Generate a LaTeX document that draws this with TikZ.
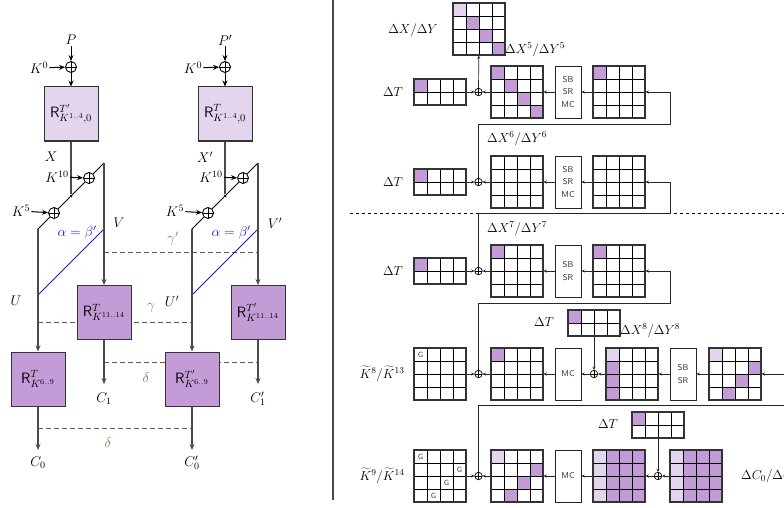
\RequirePackage{fix-cm}
\documentclass[tikz,border=0pt]{standalone}
\usepackage{fontspec}
\usetikzlibrary{arrows.meta}
\definecolor{pm}{RGB}{195,155,215}
\definecolor{pl}{RGB}{227,213,238}
\definecolor{brn}{RGB}{115,85,55}
\definecolor{lbrn}{RGB}{140,110,80}
\definecolor{dk}{RGB}{75,75,75}
\definecolor{bl}{RGB}{20,20,235}
\tikzset{
 lab/.style={font=\fontsize{14}{16}\selectfont, inner sep=1pt},
 rlab/.style={font=\fontsize{13}{15}\selectfont, inner sep=1pt},
 bigbox/.style={draw=black!80, line width=1pt, minimum width=54pt, minimum height=54pt, inner sep=0pt, font=\fontsize{15}{17}\selectfont},
 xorL/.style={circle, draw, line width=0.9pt, minimum size=11pt, inner sep=0pt,
   path picture={\draw[line width=0.9pt] (path picture bounding box.north) -- (path picture bounding box.south) (path picture bounding box.west) -- (path picture bounding box.east);}},
 xorR/.style={circle, draw, line width=0.7pt, minimum size=7.5pt, inner sep=0pt,
   path picture={\draw[line width=0.7pt] (path picture bounding box.north) -- (path picture bounding box.south) (path picture bounding box.west) -- (path picture bounding box.east);}},
 dotn/.style={circle, fill, inner sep=0pt, minimum size=3pt},
 kar/.style={-{Stealth[length=6pt,width=5pt]}, black, line width=1pt},
 larr/.style={-{Stealth[length=6pt,width=5pt]}, dk, line width=1.3pt},
 vl/.style={dk, line width=1.3pt},
 diag/.style={black, line width=0.9pt},
 bline/.style={bl, line width=1pt},
 bdash/.style={brn, line width=1pt, dash pattern=on 5pt off 3pt},
 rarr/.style={-{Stealth[length=3.2pt,width=3pt]}, black!85, line width=0.7pt},
 rline/.style={black!85, line width=0.8pt},
 gl/.style={black, line width=0.9pt},
 gb/.style={draw=black!80, line width=1.1pt, minimum width=52pt, inner sep=0pt},
 opbox/.style={draw=black!85, line width=0.9pt, minimum width=26pt, minimum height=52pt, inner sep=0pt, align=center, font=\fontsize{8.5}{12.5}\selectfont\sffamily, text=black!80},
 gtxt/.style={font=\fontsize{7.5}{8}\selectfont\sffamily, inner sep=0pt, text=black!80}
}
\newcommand\mygrid[5]{%
 \begin{scope}[shift={(#2,#3)}]
  \foreach \c/\r/\col in {#5} {\fill[\col] (13*\c,13*\r) rectangle ++(13,13);}
  \foreach \i in {1,2,3} {\draw[gl] (13*\i,0) -- (13*\i,13*#4);}
  \foreach \j in {1,2,3} {\ifnum\j<#4 \draw[gl] (0,13*\j) -- (52,13*\j);\fi}
  \node[gb, minimum height={13pt*#4}] (#1) at (26,6.5*#4) {};
 \end{scope}}
\begin{document}
\begin{tikzpicture}[x=1pt,y=-1pt]
\useasboundingbox (0,0) rectangle (784,508);
% ================= LEFT =================
\coordinate (g1s) at (104,252); \coordinate (g1e) at (258,252);
\coordinate (g2s) at (38,322);  \coordinate (g2e) at (192,322);
\coordinate (d1s) at (104,362); \coordinate (d1e) at (258,362);
\coordinate (d2s) at (38,428);  \coordinate (d2e) at (192,428);
\draw[bdash] (g1s) -- (g1e);
\draw[bdash] (g2s) -- (g2e);
\draw[bdash] (d1s) -- (d1e);
\draw[bdash] (d2s) -- (d2e);
\node[lab, text=lbrn] (lg1) at (173,239) {$\gamma'$};
\node[lab, text=lbrn] (lg2) at (151,308) {$\gamma$};
\node[lab, text=lbrn] (ld1) at (146,378) {$\delta$};
\node[lab, text=lbrn] (ld2) at (108,443) {$\delta$};
% ---- column A ----
\node[lab] (Pa) at (71,40) {$P$};
\node[xorL] (x0a) at (71,67) {};
\node[lab] (K0a) at (39,68) {$K^0$};
\node[bigbox, fill=pl] (Ra) at (71,114) {$\mathsf{R}^{T'}_{K^{1..4},0}$};
\draw[kar] (Pa) -- (x0a);
\draw[kar] (K0a) -- (x0a);
\draw[kar] (x0a) -- (Ra);
\node[lab] (Xa) at (51,157) {$X$};
\coordinate (ULa) at (38,229); \coordinate (VTa) at (104,163);
\node[xorL] (x5a) at (54,213) {};
\node[xorL] (x10a) at (89,178) {};
\node[dotn] (Da) at (71,196) {};
\draw[vl] (Ra) -- (Da);
\draw[diag] (ULa) -- (x5a) -- (Da) -- (x10a) -- (VTa);
\node[lab] (K10a) at (57,177) {$K^{10}$};
\node[lab] (K5a) at (21,211) {$K^5$};
\draw[kar] (K10a) -- (x10a);
\draw[kar] (K5a) -- (x5a);
\node[lab] (Va) at (119,223) {$V$};
\node[lab, text=bl] (ABa) at (77,233) {$\alpha=\beta'$};
\node[lab] (Ua) at (16,301) {$U$};
\coordinate (BTa) at (104,229); \coordinate (BBa) at (38,295);
\draw[bline] (BTa) -- (BBa);
\node[bigbox, fill=pm] (Sa) at (104,312.5) {$\mathsf{R}^{T}_{K^{11..14}}$};
\node[bigbox, fill=pm] (Qa) at (38,379) {$\mathsf{R}^{T}_{K^{6..9}}$};
\draw[larr] (VTa) -- (Sa);
\draw[larr] (ULa) -- (Qa);
\node[lab] (C1a) at (104,399) {$C_1$};
\node[lab] (C0a) at (38,463) {$C_0$};
\coordinate (E1a) at (104,384); \coordinate (E0a) at (38,450);
\draw[larr] (Sa) -- (E1a);
\draw[larr] (Qa) -- (E0a);
% ---- column B ----
\node[lab] (Pb) at (225,40) {$P'$};
\node[xorL] (x0b) at (225,67) {};
\node[lab] (K0b) at (193,68) {$K^0$};
\node[bigbox, fill=pl] (Rb) at (225,114) {$\mathsf{R}^{T}_{K^{1..4},0}$};
\draw[kar] (Pb) -- (x0b);
\draw[kar] (K0b) -- (x0b);
\draw[kar] (x0b) -- (Rb);
\node[lab] (Xb) at (205,157) {$X'$};
\coordinate (ULb) at (192,229); \coordinate (VTb) at (258,163);
\node[xorL] (x5b) at (208,213) {};
\node[xorL] (x10b) at (243,178) {};
\node[dotn] (Db) at (225,196) {};
\draw[vl] (Rb) -- (Db);
\draw[diag] (ULb) -- (x5b) -- (Db) -- (x10b) -- (VTb);
\node[lab] (K10b) at (211,177) {$K^{10}$};
\node[lab] (K5b) at (175,211) {$K^5$};
\draw[kar] (K10b) -- (x10b);
\draw[kar] (K5b) -- (x5b);
\node[lab] (Vb) at (275,223) {$V'$};
\node[lab, text=bl] (ABb) at (231,233) {$\alpha=\beta'$};
\node[lab] (Ub) at (172,301) {$U'$};
\coordinate (BTb) at (258,229); \coordinate (BBb) at (192,295);
\draw[bline] (BTb) -- (BBb);
\node[bigbox, fill=pm] (Sb) at (258,312.5) {$\mathsf{R}^{T'}_{K^{11..14}}$};
\node[bigbox, fill=pm] (Qb) at (192,379) {$\mathsf{R}^{T'}_{K^{6..9}}$};
\draw[larr] (VTb) -- (Sb);
\draw[larr] (ULb) -- (Qb);
\node[lab] (C1b) at (258,399) {$C_1'$};
\node[lab] (C0b) at (192,463) {$C_0'$};
\coordinate (E1b) at (258,384); \coordinate (E0b) at (192,450);
\draw[larr] (Sb) -- (E1b);
\draw[larr] (Qb) -- (E0b);
% separator
\coordinate (sepT) at (333,0); \coordinate (sepB) at (333,500);
\draw[dk, line width=1.2pt] (sepT) -- (sepB);
% ================= RIGHT =================
\coordinate (hs1) at (350,213); \coordinate (hs2) at (784,213);
\draw[black, line width=0.8pt, dash pattern=on 3pt off 3pt] (hs1) -- (hs2);
% row 1
\mygrid{gXY}{453}{3}{4}{0/0/pl,1/1/pm,2/2/pm,3/3/pm}
\mygrid{gT1}{414}{79}{2}{0/0/pm}
\mygrid{gL1}{491}{66}{4}{0/0/pm,1/1/pm,2/2/pm,3/3/pm}
\node[opbox] (b1) at (568,92) {SB\\SR\\MC};
\mygrid{gR1}{593}{66}{4}{0/0/pm}
\node[xorR] (xr1) at (478.5,92) {};
\node[rlab] (tXY) at (413,30) {$\Delta X/\Delta Y$};
\node[rlab, anchor=west] (tX5) at (504,50) {$\Delta X^5/\Delta Y^5$};
\node[rlab] (tT1) at (393,92) {$\Delta T$};
\draw[rarr] (gR1) -- (b1);
\draw[rarr] (b1) -- (gL1);
\draw[rarr] (gL1) -- (xr1);
\draw[rarr] (gT1) -- (xr1);
\draw[rarr] (xr1) -- (gXY);
% row 2
\mygrid{gT2}{414}{169}{2}{0/0/pm}
\mygrid{gL2}{491}{156}{4}{0/0/white}
\node[opbox] (b2) at (568,182) {SB\\SR\\MC};
\mygrid{gR2}{593}{156}{4}{0/0/white}
\node[xorR] (xr2) at (478.5,182) {};
\node[rlab, anchor=west] (tX6) at (486,139) {$\Delta X^6/\Delta Y^6$};
\node[rlab] (tT2) at (393,182) {$\Delta T$};
\draw[rarr] (gR2) -- (b2);
\draw[rarr] (b2) -- (gL2);
\draw[rarr] (gL2) -- (xr2);
\draw[rarr] (gT2) -- (xr2);
\coordinate (L1) at (670,124);
\draw[rarr] (xr2.north) |- (L1) |- (gR1.east);
% row 3
\mygrid{gT3}{414}{258}{2}{0/0/pm}
\mygrid{gL3}{491}{245}{4}{0/0/pm}
\node[opbox] (b3) at (568,271) {SB\\SR};
\mygrid{gR3}{593}{245}{4}{0/0/pm}
\node[xorR] (xr3) at (478.5,271) {};
\node[rlab, anchor=west] (tX7) at (486,229) {$\Delta X^7/\Delta Y^7$};
\node[rlab] (tT3) at (393,271) {$\Delta T$};
\draw[rarr] (gR3) -- (b3);
\draw[rarr] (b3) -- (gL3);
\draw[rarr] (gL3) -- (xr3);
\draw[rarr] (gT3) -- (xr3);
\coordinate (L2) at (670,213);
\draw[rarr] (xr3.north) |- (L2) |- (gR2.east);
% row 4
\mygrid{gK8}{414}{348}{4}{0/0/white}
\node[gtxt] (gk8) at (420.5,354.5) {G};
\mygrid{gL4}{491}{348}{4}{0/0/pm}
\node[opbox] (b4) at (568,374) {MC};
\node[xorR] (xr4b) at (594,374) {};
\mygrid{gT4}{568}{310}{2}{0/0/pm}
\mygrid{gM4}{606}{348}{4}{0/0/pl,0/1/pm,0/2/pm,0/3/pm}
\node[opbox] (b4b) at (683,374) {SB\\SR};
\mygrid{gR4}{709}{348}{4}{0/0/pl,3/1/pm,2/2/pm,1/3/pm}
\node[xorR] (xr4) at (478.5,374) {};
\node[rlab] (tK8) at (382,374) {$\widetilde{K}^8/\widetilde{K}^{13}$};
\node[rlab] (tT4) at (544,322) {$\Delta T$};
\node[rlab, anchor=west] (tX8) at (619,331) {$\Delta X^8/\Delta Y^8$};
\coordinate (In4) at (784,374);
\draw[rarr] (In4) -- (gR4);
\draw[rarr] (gR4) -- (b4b);
\draw[rarr] (b4b) -- (gM4);
\draw[rarr] (gM4) -- (xr4b);
\draw[rarr] (gT4) -- (xr4b);
\draw[rarr] (xr4b) -- (b4);
\draw[rarr] (b4) -- (gL4);
\draw[rarr] (gL4) -- (xr4);
\draw[rarr] (gK8) -- (xr4);
\coordinate (L3) at (670,303);
\draw[rarr] (xr4.north) |- (L3) |- (gR3.east);
% row 5
\mygrid{gK9}{414}{450}{4}{0/0/white}
\node[gtxt] (gk91) at (420.5,456.5) {G};
\node[gtxt] (gk92) at (459.5,469.5) {G};
\node[gtxt] (gk93) at (446.5,482.5) {G};
\node[gtxt] (gk94) at (433.5,495.5) {G};
\mygrid{gL5}{491}{450}{4}{0/0/pl,3/1/pm,2/2/pm,1/3/pm}
\node[opbox] (b5) at (568,476) {MC};
\mygrid{gM5}{593}{450}{4}{0/0/pl,0/1/pl,0/2/pl,0/3/pl,1/0/pm,1/1/pm,1/2/pm,1/3/pm,2/0/pm,2/1/pm,2/2/pm,2/3/pm,3/0/pm,3/1/pm,3/2/pm,3/3/pm}
\node[xorR] (xr5b) at (658,476) {};
\mygrid{gT5}{632}{412}{2}{0/0/pm}
\mygrid{gR5}{670}{450}{4}{0/0/pl,0/1/pl,0/2/pl,0/3/pl,1/0/pm,1/1/pm,1/2/pm,1/3/pm,2/0/pm,2/1/pm,2/2/pm,2/3/pm,3/0/pm,3/1/pm,3/2/pm,3/3/pm}
\node[xorR] (xr5) at (478.5,476) {};
\node[rlab] (tK9) at (382,476) {$\widetilde{K}^9/\widetilde{K}^{14}$};
\node[rlab] (tT5) at (608,424) {$\Delta T$};
\node[rlab, anchor=west] (tC) at (740,476) {$\Delta C_0/\Delta C_1$};
\draw[rarr] (gR5) -- (xr5b);
\draw[rarr] (gT5) -- (xr5b);
\draw[rarr] (xr5b) -- (gM5);
\draw[rarr] (gM5) -- (b5);
\draw[rarr] (b5) -- (gL5);
\draw[rarr] (gL5) -- (xr5);
\draw[rarr] (gK9) -- (xr5);
\coordinate (L5) at (784,405);
\draw[rline] (xr5.north) |- (L5);
\end{tikzpicture}
\end{document}
